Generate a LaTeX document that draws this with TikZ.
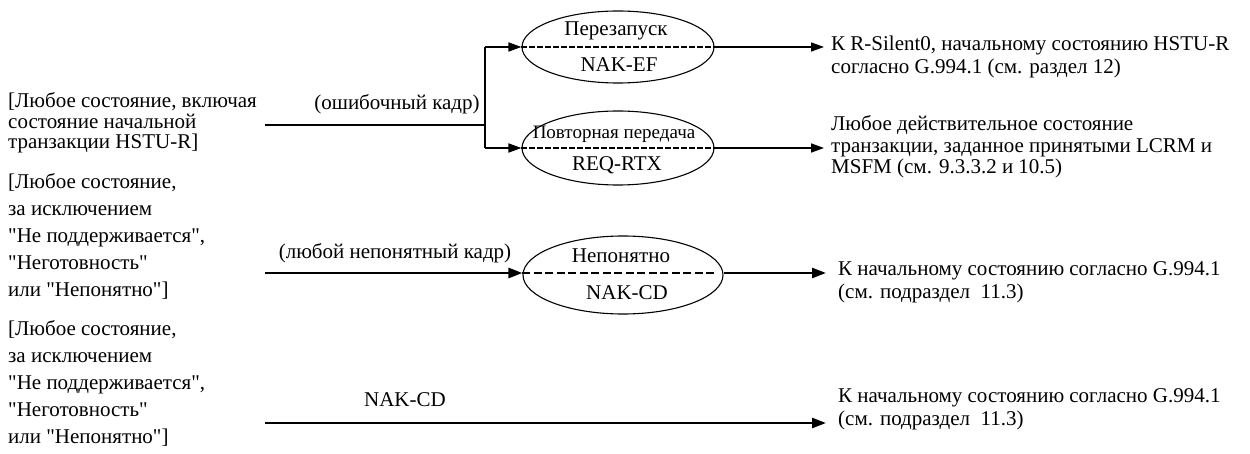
\documentclass[tikz,border=0pt]{standalone}
\usepackage{fontspec}
\setmainfont{Liberation Serif}[Ligatures=TeXOff]
\usetikzlibrary{arrows.meta,shapes.geometric}

\begin{document}
\begin{tikzpicture}[x=1pt,y=-1pt,
  txt/.style={font=\fontsize{21}{23}\selectfont, inner sep=0pt, align=left, anchor=north west},
  lbl/.style={font=\fontsize{21}{23}\selectfont, inner sep=0pt},
  smalllbl/.style={font=\fontsize{19}{21}\selectfont, inner sep=0pt},
  state/.style={draw, ellipse, line width=1.1pt, inner sep=0pt,
                minimum width=192pt, minimum height=72pt},
  wideState/.style={state, minimum width=200pt, minimum height=78pt},
  thin/.style={line width=1.4pt},
  flow/.style={line width=1.6pt, -{Triangle[length=13pt,width=9pt]}},
  boldflow/.style={line width=2.6pt, -{Triangle[length=14pt,width=10pt]}},
  splitline/.style={line width=1.6pt, dash pattern=on 6pt off 2pt},
  boldsplit/.style={line width=2.6pt, dash pattern=on 8pt off 3.5pt}
]
\useasboundingbox (0,0) rectangle (1250,454);

% ---------- erroneous frame: two possible reactions ----------
\node[txt, font=\fontsize{21}{20.5}\selectfont] (src1) at (8,92.5)
  {[Любое состояние, включая\\состояние начальной\\транзакции HSTU-R]};
\node[lbl] (ev1) at (397,104) {(ошибочный кадр)};
\coordinate (in1) at (265,125);
\coordinate (fork) at (485,125);
\coordinate (forkT) at (485,47);
\coordinate (forkB) at (485,148);

\node[state] (restart) at (618,47) {};
\node[lbl] (restartT) at (616,31) {Перезапуск};
\node[lbl] (restartB) at (619,65) {NAK-EF};

\node[state, minimum height=74pt] (retx) at (618,148) {};
\node[smalllbl] (retxT) at (614,134) {Повторная передача};
\node[lbl] (retxB) at (617,165) {REQ-RTX};

\node[txt] (dst1) at (831,35.5) {К R-Silent0, начальному состоянию HSTU-R\\согласно G.994.1 (см. раздел 12)};
\node[txt, font=\fontsize{21}{21.5}\selectfont] (dst2) at (831,115.5)
  {Любое действительное состояние\\транзакции, заданное принятыми LCRM и\\MSFM (см. 9.3.3.2 и 10.5)};
\coordinate (dst1in) at (824,47);
\coordinate (dst2in) at (824,148);

\draw[thin] (in1) -- (fork);
\draw[thin] (forkT) -- (forkB);
\draw[flow] (forkT) -- (restart.west);
\draw[flow] (forkB) -- (retx.west);
\draw[splitline] (restart.west) -- (restart.east);
\draw[splitline] (retx.west) -- (retx.east);
\draw[flow] (restart.east) -- (dst1in);
\draw[flow] (retx.east) -- (dst2in);

% ---------- unintelligible frame ----------
\node[txt, font=\fontsize{21}{27}\selectfont] (src2) at (8,173.5)
  {[Любое состояние,\\за исключением\\"Не поддерживается",\\"Неготовность"\\или "Непонятно"]};
\node[lbl] (ev2) at (395,253) {(любой непонятный кадр)};
\coordinate (in2) at (265,273);
\node[wideState] (unclear) at (623,275) {};
\node[lbl] (unclearT) at (621,256) {Непонятно};
\node[lbl] (unclearB) at (627,293) {NAK-CD};
\node[txt] (dst3) at (838,261.5) {К начальному состоянию согласно G.994.1\\(см. подраздел~ 11.3)};
\coordinate (dst3in) at (826,273);

\draw[boldflow] (in2) -- (in2 -| unclear.west);
\draw[boldsplit] (in2 -| unclear.west) -- ([xshift=-10pt]in2 -| unclear.east);
\draw[boldflow] (in2 -| unclear.east) -- (dst3in);

% ---------- received NAK-CD ----------
\node[txt, font=\fontsize{21}{27}\selectfont] (src3) at (8,320.5)
  {[Любое состояние,\\за исключением\\"Не поддерживается",\\"Неготовность"\\или "Непонятно"]};
\node[lbl] (ev3) at (405,400) {NAK-CD};
\coordinate (in3) at (265,423);
\node[txt] (dst4) at (838,388.5) {К начальному состоянию согласно G.994.1\\(см. подраздел~ 11.3)};
\coordinate (dst4in) at (826,423);

\draw[boldflow] (in3) -- (dst4in);
\end{tikzpicture}
\end{document}
